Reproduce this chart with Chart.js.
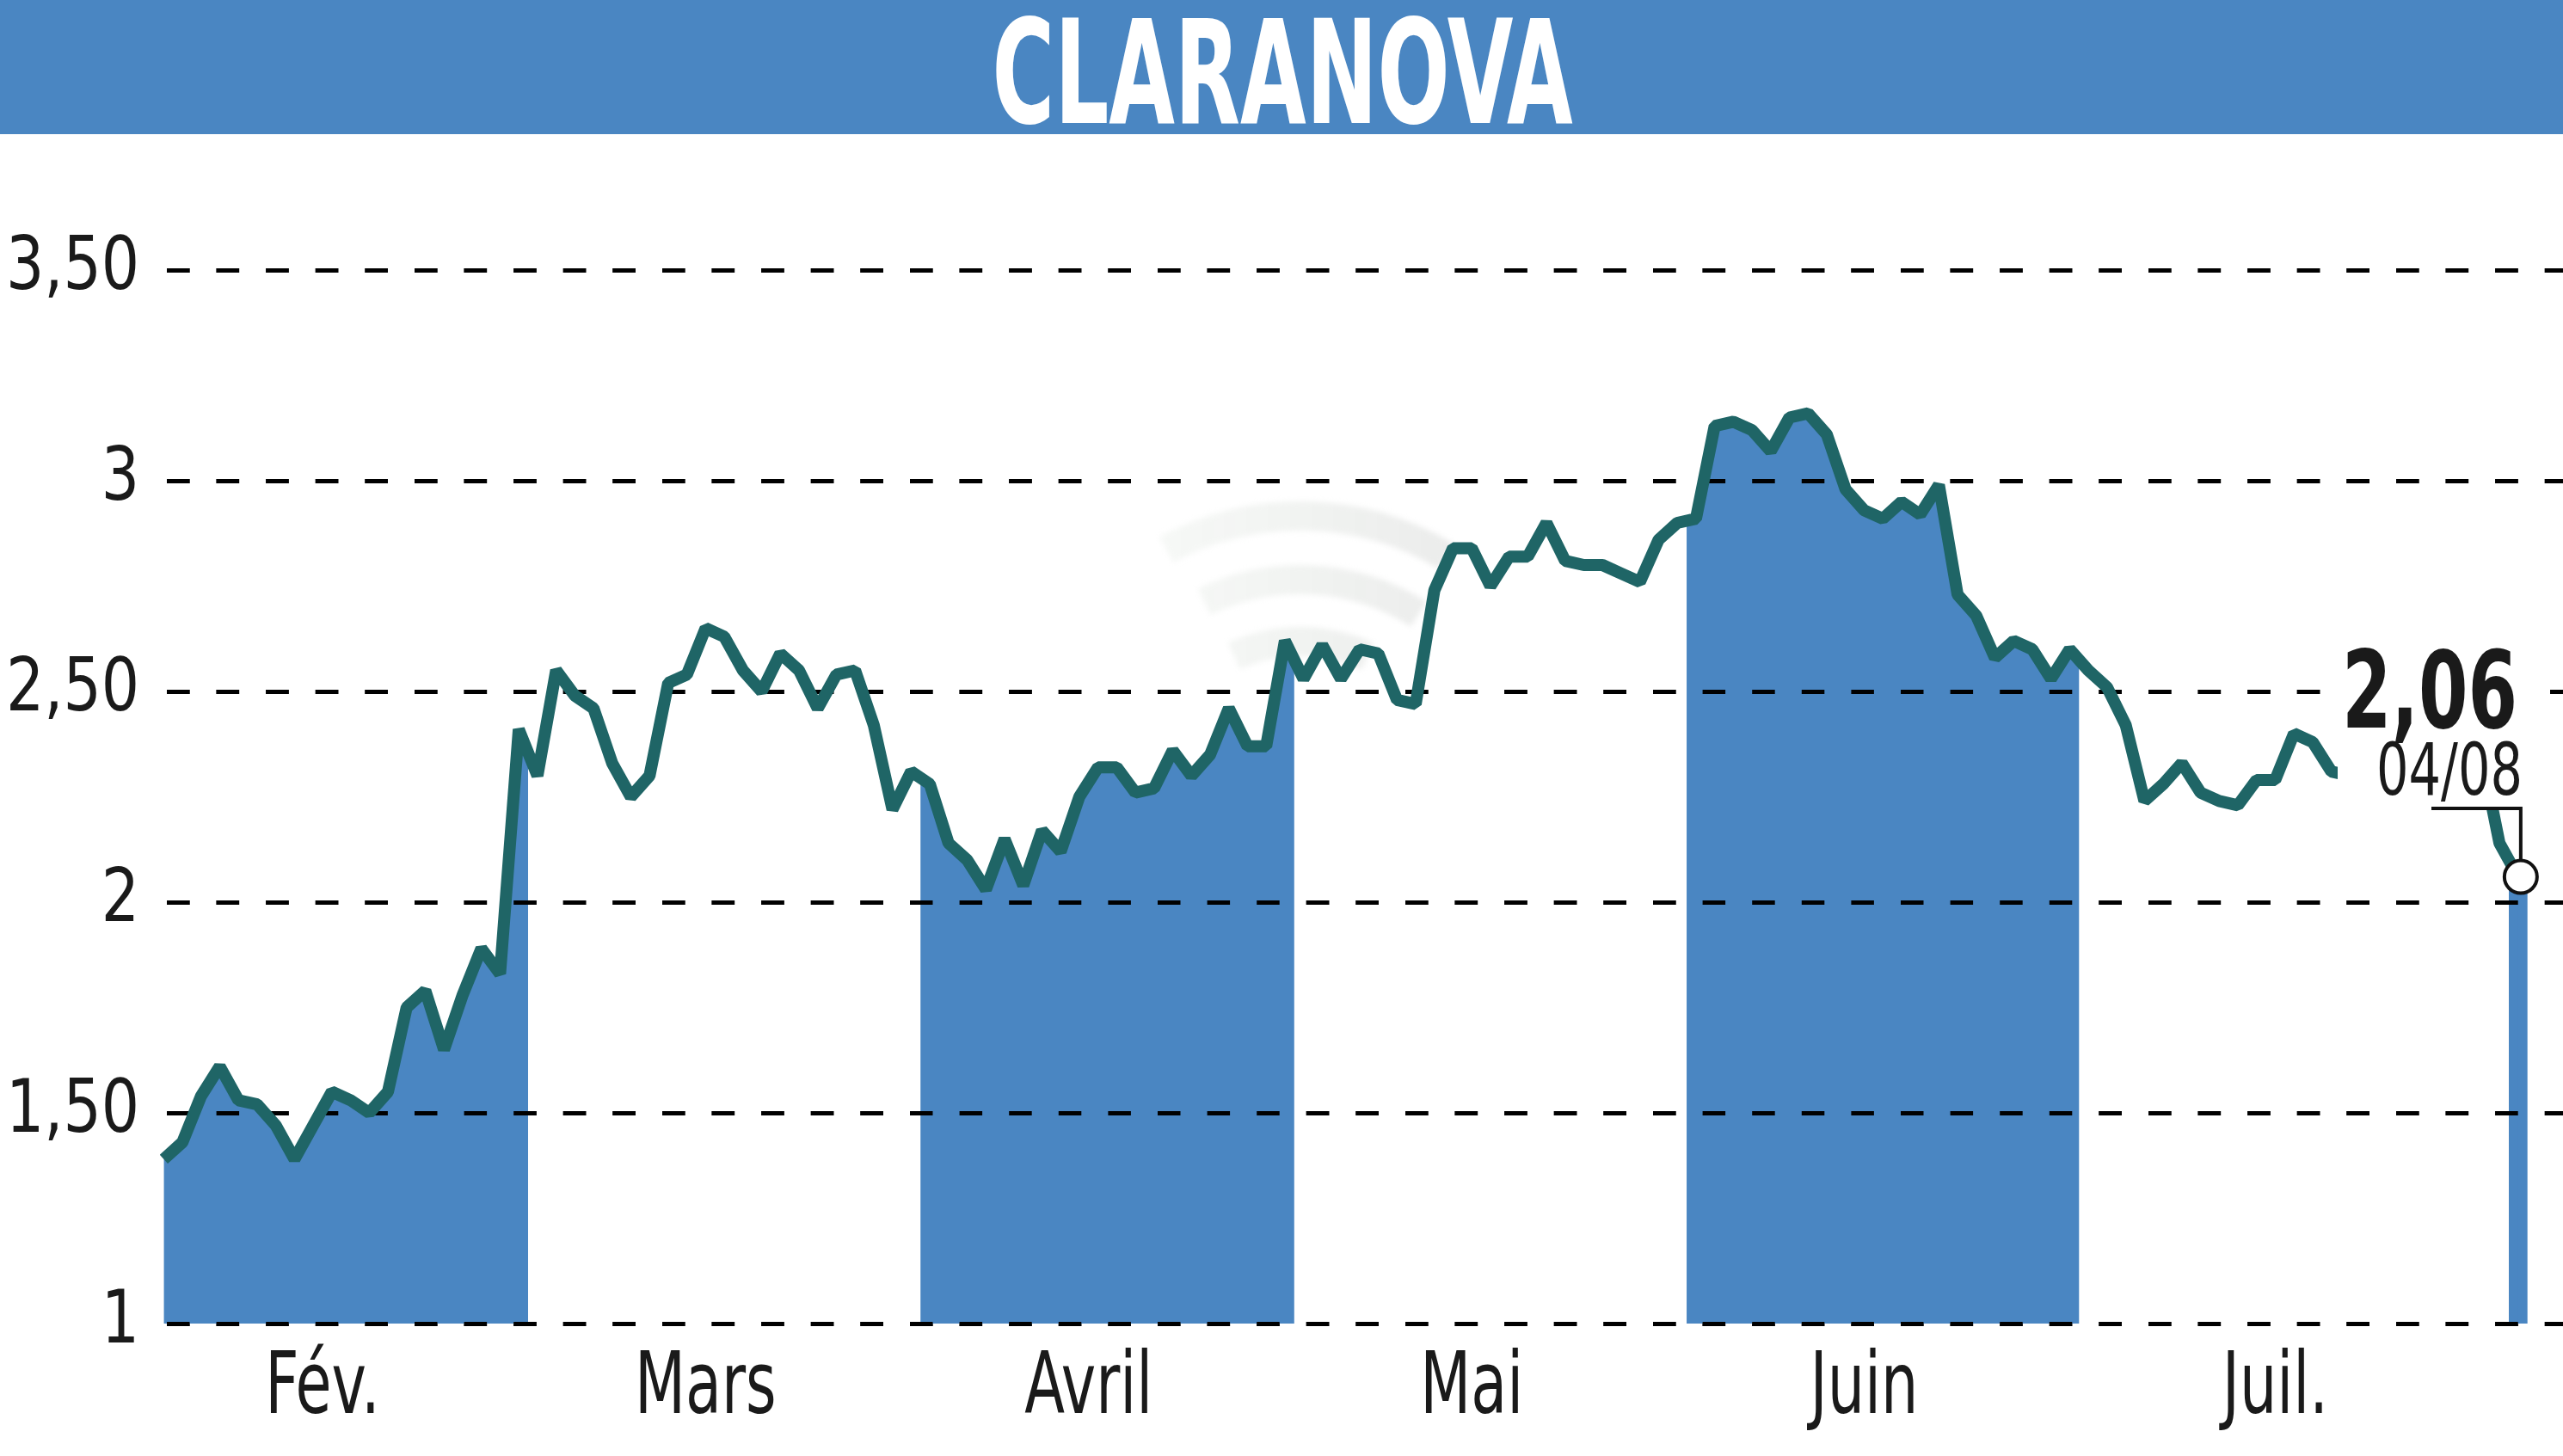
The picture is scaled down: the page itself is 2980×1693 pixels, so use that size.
<!DOCTYPE html>
<html>
<head>
<meta charset="utf-8">
<title>CLARANOVA</title>
<script src="https://cdn.jsdelivr.net/npm/chart.js@4.4.1/dist/chart.umd.min.js"></script>
<style>
  html, body { margin: 0; padding: 0; background: #fff; }
</style>
</head>
<body>
<canvas id="chart" width="2980" height="1693"></canvas>
<script>
// cours de clôture quotidiens, un tableau par mois (2025)
var fev = [1.39, 1.43, 1.54, 1.61, 1.53, 1.52, 1.47, 1.39, 1.47, 1.55, 1.53, 1.50, 1.55, 1.75, 1.79, 1.65, 1.78, 1.89, 1.83, 2.41]
var mars = [2.30, 2.55, 2.49, 2.46, 2.33, 2.25, 2.30, 2.52, 2.54, 2.65, 2.63, 2.55, 2.50, 2.59, 2.55, 2.46, 2.54, 2.55, 2.42, 2.22, 2.31]
var avril = [2.28, 2.14, 2.10, 2.03, 2.15, 2.04, 2.17, 2.12, 2.25, 2.32, 2.32, 2.26, 2.27, 2.36, 2.30, 2.35, 2.46, 2.37, 2.37, 2.62]
var mai = [2.53, 2.61, 2.53, 2.60, 2.59, 2.48, 2.47, 2.74, 2.84, 2.84, 2.75, 2.82, 2.82, 2.90, 2.81, 2.80, 2.80, 2.78, 2.76, 2.86, 2.90]
var juin = [2.91, 3.13, 3.14, 3.12, 3.07, 3.15, 3.16, 3.11, 2.98, 2.93, 2.91, 2.95, 2.92, 2.99, 2.73, 2.68, 2.58, 2.62, 2.60, 2.53, 2.60]
var juil = [2.55, 2.51, 2.42, 2.24, 2.28, 2.33, 2.26, 2.24, 2.23, 2.29, 2.29, 2.40, 2.38, 2.31, 2.30, 2.28, 2.31, 2.33, 2.30, 2.32, 2.35, 2.36, 2.14]
var aout = [2.06]

var monthLabels = ['Fév.', 'Mars', 'Avril', 'Mai', 'Juin', 'Juil.']
var yTicks = [1, 1.5, 2, 2.5, 3, 3.5]
var title = 'CLARANOVA'
var lastValueLabel = '2,06'
var lastDateLabel = '04/08'

var BLUE = '#4a86c2'
var TEAL = '#1f6566'
var FONT = "'DejaVu Sans Condensed', 'DejaVu Sans', sans-serif"

var months = [fev, mars, avril, mai, juin, juil, aout]
var bandMonths = [0, 2, 4, 6]
var points = []
var starts = []
months.forEach(function (m) {
    starts.push(points.length)
    m.forEach(function (v) { points.push({ x: points.length, y: v }) })
})
var lastIdx = points.length - 1
var labelPos = monthLabels.map(function (l, k) { return starts[k] - 0.5 + months[k].length / 2 - 1 })

// the reference uses a very condensed face: squeeze tick labels horizontally
var squeeze = null
function patchText(ctx) {
    if (ctx._plainFillText) return
    ctx._plainFillText = ctx.fillText
    ctx.fillText = function (t, x, y, mw) {
        var k = squeeze ? (squeeze[this.textAlign] || 1) : 1
        if (k === 1) return mw === undefined ? this._plainFillText(t, x, y) : this._plainFillText(t, x, y, mw)
        this.save()
        this.translate(x, y)
        this.scale(k, 1)
        this._plainFillText(t, 0, 0)
        this.restore()
    }
}

function fitText(ctx, text, font, x, y, width, align) {
    ctx.save()
    ctx.font = font
    var w = ctx.measureText(text).width
    ctx.translate(x, y)
    ctx.scale(width / w, 1)
    ctx.textAlign = align
    ctx.textBaseline = 'alphabetic'
    ctx.fillText(text, 0, 0)
    ctx.restore()
}

function drawWatermark(ctx) {
    ctx.save()
    ctx.filter = 'blur(3px)'
    var g = ctx.createLinearGradient(1360, 0, 1690, 0)
    g.addColorStop(0, 'rgba(230,236,230,0.35)')
    g.addColorStop(1, 'rgba(205,207,205,0.4)')
    ctx.strokeStyle = g
    ctx.lineWidth = 34
    ;[[330, 4.22, 5.25], [256, 4.26, 5.28], [184, 4.28, 5.15]].forEach(function (a) {
        ctx.beginPath()
        ctx.arc(1512, 930, a[0], a[1], a[2])
        ctx.stroke()
    })
    ctx.restore()
}

var decor = {
    id: 'decor',
    beforeDraw: function (chart) {
        var ctx = chart.ctx
        patchText(ctx)
        squeeze = null
        ctx.save()
        ctx.fillStyle = '#fff'
        ctx.fillRect(0, 0, chart.width, chart.height)
        ctx.fillStyle = BLUE
        ctx.fillRect(0, 0, chart.width, 156)
        ctx.fillStyle = '#fff'
        fitText(ctx, title, "bold 167px " + FONT, 1491, 143, 675, 'center')
        ctx.restore()
        squeeze = { right: 0.9, center: 0.76 }
    },
    beforeDatasetsDraw: function () {
        squeeze = null
    },
    beforeDatasetDraw: function (chart, args) {
        if (args.index !== 1) return
        var x = chart.scales.x, a = chart.chartArea, ctx = chart.ctx
        ctx.save()
        ctx.beginPath()
        bandMonths.forEach(function (k) {
            var x0 = x.getPixelForValue(starts[k] - 0.5)
            var x1 = x.getPixelForValue(starts[k] + months[k].length - 0.5)
            ctx.rect(x0, a.top, x1 - x0, a.bottom - a.top)
        })
        ctx.clip()
    },
    afterDatasetDraw: function (chart, args) {
        if (args.index !== 1) return
        chart.ctx.restore()
        chart.scales.y.drawGrid(chart.chartArea)
        drawWatermark(chart.ctx)
    },
    afterDatasetsDraw: function (chart) {
        var ctx = chart.ctx
        var px = chart.scales.x.getPixelForValue(lastIdx)
        var py = chart.scales.y.getPixelForValue(points[lastIdx].y)
        ctx.save()
        ctx.fillStyle = '#fff'
        ctx.fillRect(2718, 737, 247, 203)
        ctx.fillStyle = '#1a1a1a'
        fitText(ctx, lastValueLabel, "bold 124px " + FONT, 2927, 846, 204, 'right')
        fitText(ctx, lastDateLabel, "84px " + FONT, 2933, 924, 170, 'right')
        ctx.strokeStyle = '#111'
        ctx.lineWidth = 4
        ctx.beginPath()
        ctx.moveTo(2827, 940)
        ctx.lineTo(px + 3, 940)
        ctx.lineTo(px + 3, py - 19)
        ctx.stroke()
        ctx.beginPath()
        ctx.arc(px + 3, py, 19, 0, Math.PI * 2)
        ctx.fillStyle = '#fff'
        ctx.fill()
        ctx.stroke()
        ctx.restore()
    }
}

// decor must run before the filler so its band clip is active when the fill is painted
var filler = Chart.Filler || Chart.registry.getPlugin('filler')
Chart.unregister(filler)
Chart.register(decor)
Chart.register(filler)

new Chart(document.getElementById('chart'), {
    type: 'line',
    data: {
        datasets: [
            {
                data: points,
                borderColor: TEAL,
                borderWidth: 14,
                borderJoinStyle: 'bevel',
                pointRadius: 0,
                fill: false,
                tension: 0,
                order: 1
            },
            {
                data: points,
                borderWidth: 0,
                borderColor: 'rgba(0,0,0,0)',
                backgroundColor: BLUE,
                pointRadius: 0,
                fill: 'start',
                tension: 0,
                order: 2
            },
            {
                type: 'bar',
                data: [points[lastIdx]],
                backgroundColor: BLUE,
                barThickness: 21,
                order: 3
            }
        ]
    },
    options: {
        responsive: false,
        animation: false,
        devicePixelRatio: 1,
        layout: { padding: { top: 314, right: 0, bottom: 0, left: 0 } },
        plugins: {
            legend: { display: false },
            tooltip: { enabled: false }
        },
        scales: {
            x: {
                type: 'linear',
                offset: false,
                min: -0.2,
                max: 128.4,
                grid: { display: false, drawTicks: false },
                border: { display: false },
                afterBuildTicks: function (s) { s.ticks = labelPos.map(function (v) { return { value: v } }) },
                afterFit: function (s) { s.height = 154 },
                ticks: {
                    autoSkip: false,
                    maxRotation: 0,
                    padding: 18,
                    color: '#1a1a1a',
                    font: { family: FONT, size: 100 },
                    callback: function (v, i) { return monthLabels[i] }
                }
            },
            y: {
                min: 1,
                max: 3.5,
                afterBuildTicks: function (s) { s.ticks = yTicks.map(function (v) { return { value: v } }) },
                afterFit: function (s) { s.width = 186 },
                grid: { color: '#000', lineWidth: 5, drawTicks: false },
                border: { display: false, dash: [26.5, 31.1], dashOffset: 49.6 },
                ticks: {
                    padding: 24,
                    color: '#1a1a1a',
                    font: { family: FONT, size: 86 },
                    callback: function (v) { return v % 1 === 0 ? String(v) : v.toFixed(2).replace('.', ',') }
                }
            }
        }
    }
})
</script>
</body>
</html>
